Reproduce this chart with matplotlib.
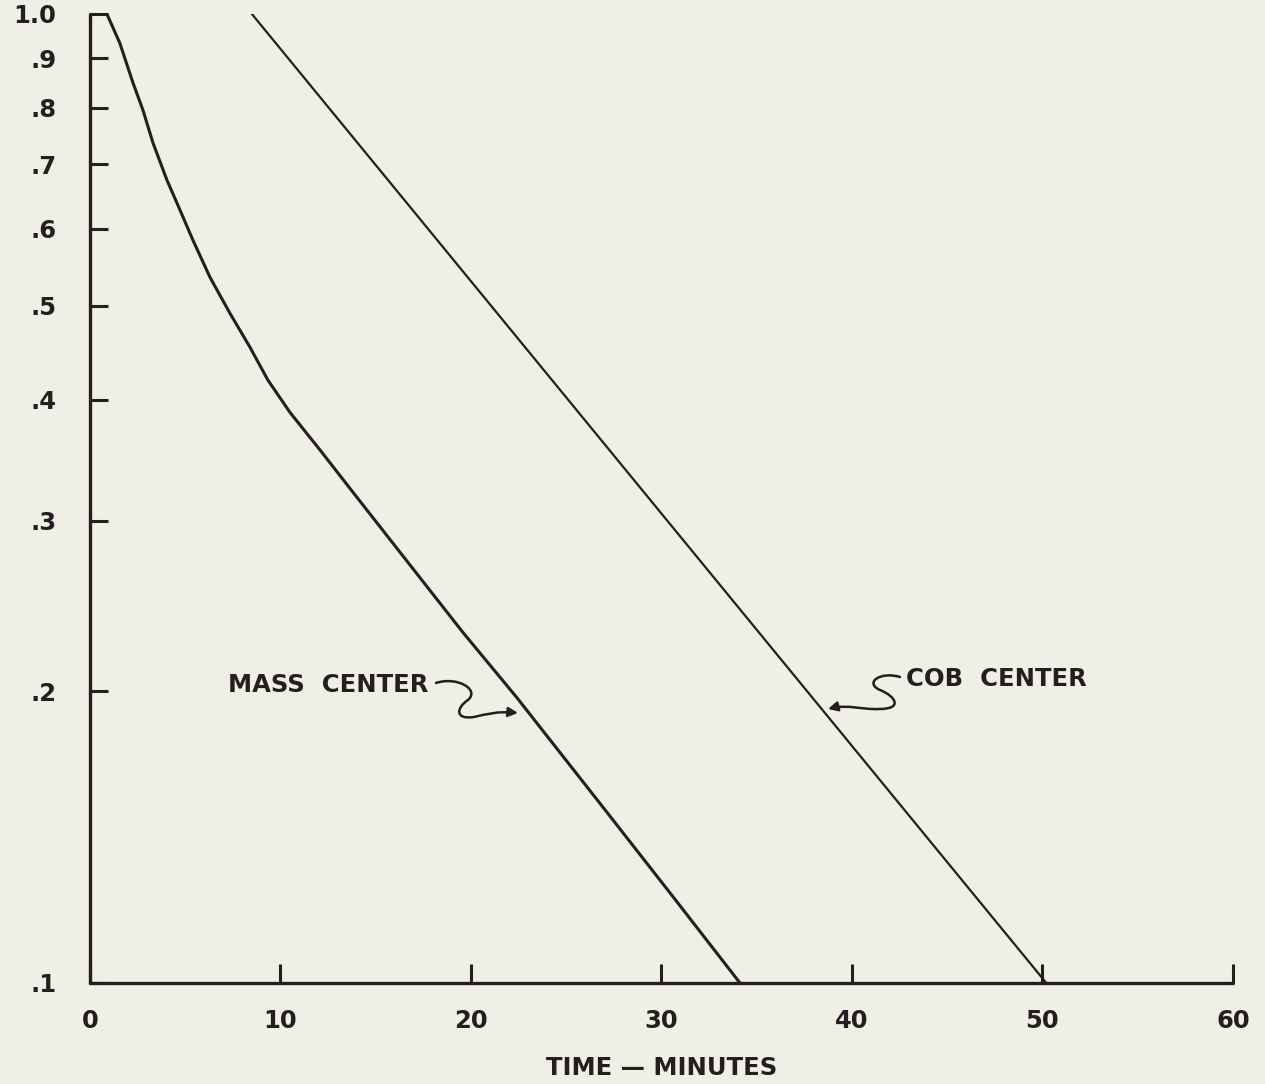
import matplotlib
matplotlib.use("Agg")
import matplotlib.pyplot as plt
from matplotlib.path import Path
from matplotlib.patches import FancyArrowPatch
from matplotlib.ticker import FixedLocator, NullLocator

mass_t = [0.89, 1.57, 2.26, 2.78, 3.31, 4.04, 4.57, 5.41, 6.30, 7.35, 8.40,
          9.34, 10.50, 12.07, 14.02, 16.17, 19.58, 22.41, 27.14, 30.71, 34.12]
mass_frac = [1.000, 0.933, 0.849, 0.796, 0.736, 0.674, 0.638, 0.584, 0.535,
             0.491, 0.453, 0.419, 0.388, 0.355, 0.317, 0.280, 0.230, 0.197,
             0.150, 0.122, 0.100]
cob_t = [8.5, 50.2]
cob_frac = [1.0, 0.1]

xticks = [0, 10, 20, 30, 40, 50, 60]
yticks = [0.1, 0.2, 0.3, 0.4, 0.5, 0.6, 0.7, 0.8, 0.9, 1.0]
ytick_labels = [".1", ".2", ".3", ".4", ".5", ".6", ".7", ".8", ".9", "1.0"]

BG = "#f0efe5"
INK = "#231f20"
FS = 17.5
FW = "bold"


def px(x, y):
    # reference-pixel position -> axes fraction (for the annotation squiggles)
    return ((x - 90) / 1143.0, (983 - y) / 969.0)


def squiggle(ax, pts):
    verts = [px(*p) for p in pts]
    codes = [Path.MOVETO] + [Path.CURVE4] * (len(verts) - 1)
    arr = FancyArrowPatch(path=Path(verts, codes), arrowstyle="-|>",
                          mutation_scale=14, lw=1.8, color=INK,
                          transform=ax.transAxes, clip_on=False)
    ax.add_patch(arr)


fig = plt.figure(figsize=(12.65, 10.84), dpi=100, facecolor=BG)
ax = fig.add_axes([0.0711, 0.0932, 0.9036, 0.8939], facecolor=BG)

ax.plot(mass_t, mass_frac, color=INK, lw=2.2, solid_joinstyle="round")
ax.plot(cob_t, cob_frac, color=INK, lw=1.6)

ax.set_yscale("log")
ax.set_xlim(0, 60)
ax.set_ylim(0.1, 1.0)
ax.yaxis.set_major_locator(FixedLocator(yticks))
ax.yaxis.set_minor_locator(NullLocator())
ax.set_yticklabels(ytick_labels, fontweight=FW)
ax.set_xticks(xticks)
ax.set_xticklabels([str(v) for v in xticks], fontweight=FW)

for s in ["top", "right"]:
    ax.spines[s].set_visible(False)
for s in ["left", "bottom"]:
    ax.spines[s].set_linewidth(2.4)
    ax.spines[s].set_color(INK)
    ax.spines[s].set_capstyle("round")

ax.tick_params(axis="x", direction="in", length=14, width=2.2, color=INK,
               labelsize=FS, labelcolor=INK, pad=19)
ax.tick_params(axis="y", direction="in", length=13, width=2.2, color=INK,
               labelsize=FS, labelcolor=INK, pad=24)
ax.set_xlabel("TIME \u2014 MINUTES", fontsize=FS, fontweight=FW, color=INK,
              labelpad=16)

ax.text(*px(428, 685), "MASS  CENTER", transform=ax.transAxes,
        ha="right", va="center", fontsize=FS, fontweight=FW, color=INK)
ax.text(*px(906, 679), "COB  CENTER", transform=ax.transAxes,
        ha="left", va="center", fontsize=FS, fontweight=FW, color=INK)

squiggle(ax, [(436, 683), (458, 676), (480, 690), (468, 700),
              (456, 708), (455, 720), (474, 717),
              (488, 714), (497, 711), (518, 713)])
squiggle(ax, [(900, 677), (880, 671), (864, 683), (880, 690),
              (897, 697), (902, 709), (880, 709),
              (862, 710), (848, 704), (828, 709)])

fig.savefig("out.png", dpi=100, facecolor=BG)
